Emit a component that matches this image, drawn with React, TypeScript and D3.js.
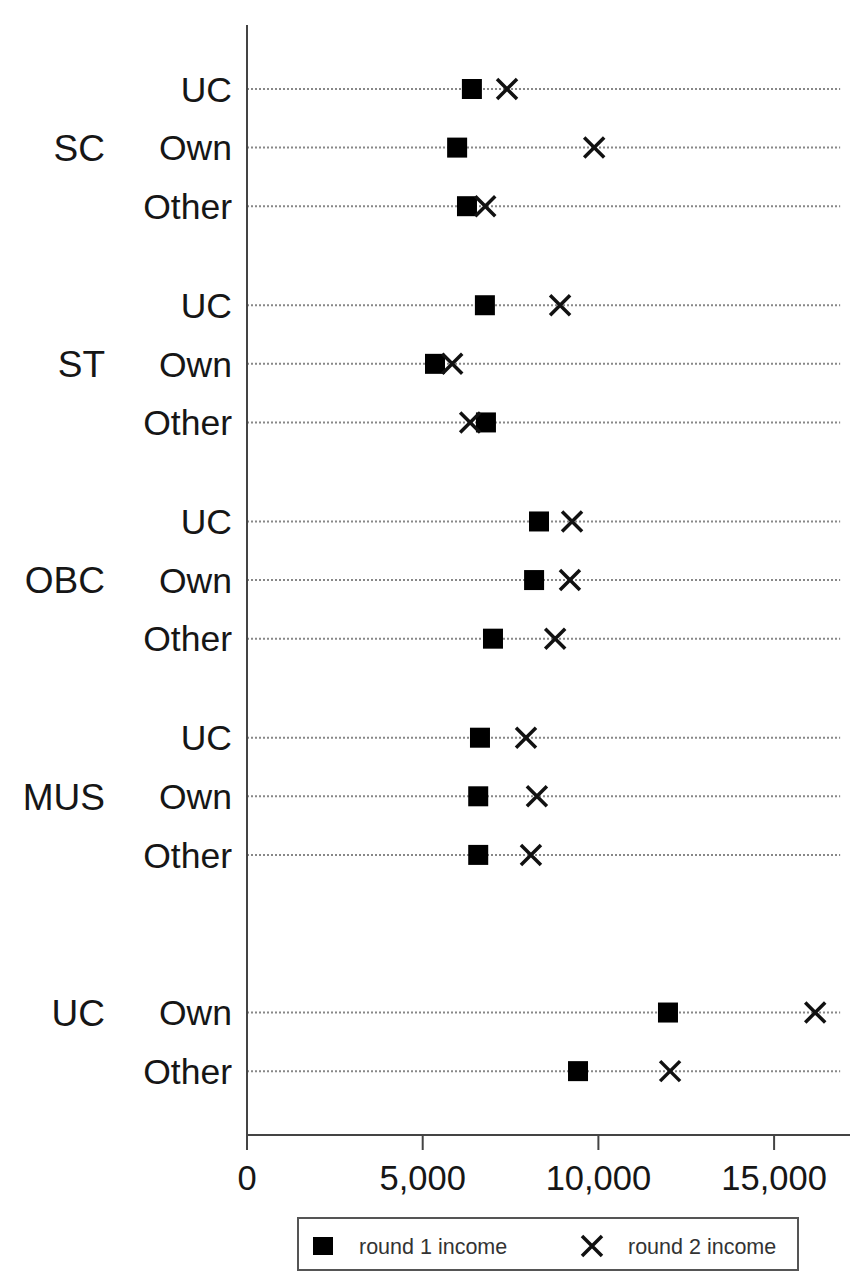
import React from "react";
import * as d3 from "d3";

const groupLabels = ["SC", "ST", "OBC", "MUS", "UC"];
const rowLabels = ["UC", "Own", "Other"];
// round 1 income per group, per row (UC, Own, Other); null = no row
const round1: (number | null)[][] = [
  [6400, 5980, 6260],
  [6770, 5350, 6800],
  [8310, 8170, 7000],
  [6630, 6580, 6580],
  [null, 11980, 9420],
];
const round2: (number | null)[][] = [
  [7400, 9880, 6780],
  [8910, 5840, 6350],
  [9250, 9190, 8770],
  [7940, 8250, 8080],
  [null, 16170, 12040],
];
const xTicks = [0, 5000, 10000, 15000];
const legendLabels = ["round 1 income", "round 2 income"];

const W = 856;
const H = 1283;
const FONT = "'Liberation Sans', Arial, Helvetica, sans-serif";

export default function App() {
  const x = d3.scaleLinear().domain([0, 17160]).range([247, 850]);
  const groupStep = 3.69;
  const y = d3.scaleLinear().domain([0, 1]).range([89, 147.6]);
  const unit = (g: number, r: number) => g * groupStep + r;
  const fmt = d3.format(",");
  const axisY = 1135;
  const lineEnd = x(16880);
  const sq = 20;
  const xs = 10;

  const rows: { g: number; r: number; v1: number; v2: number }[] = [];
  round1.forEach((arr, g) =>
    arr.forEach((v, r) => {
      const v2 = round2[g][r];
      if (v != null && v2 != null) rows.push({ g, r, v1: v, v2 });
    })
  );

  const cross = (cx: number, cy: number, key: string) => (
    <path
      key={key}
      d={`M${cx - xs},${cy - xs}L${cx + xs},${cy + xs}M${cx - xs},${cy + xs}L${cx + xs},${cy - xs}`}
      stroke="#111"
      strokeWidth={3.5}
      fill="none"
    />
  );

  return (
    <svg
      width={W}
      height={H}
      style={{ position: "absolute", left: 0, top: 0, background: "#fff" }}
      fontFamily={FONT}
    >
      {/* dotted grid lines */}
      {rows.map((d, i) => (
        <line
          key={"l" + i}
          x1={x(0)}
          x2={lineEnd}
          y1={y(unit(d.g, d.r))}
          y2={y(unit(d.g, d.r))}
          stroke="#888"
          strokeWidth={2}
          strokeDasharray="2,2"
        />
      ))}
      {/* row labels */}
      {rows.map((d, i) => (
        <text
          key={"rl" + i}
          x={232}
          y={y(unit(d.g, d.r))}
          dy="0.36em"
          textAnchor="end"
          fontSize={35.5}
          fill="#161616"
        >
          {rowLabels[d.r]}
        </text>
      ))}
      {/* group labels */}
      {groupLabels.map((gl, g) => (
        <text
          key={"gl" + g}
          x={105}
          y={y(unit(g, 1))}
          dy="0.36em"
          textAnchor="end"
          fontSize={37}
          fill="#161616"
        >
          {gl}
        </text>
      ))}
      {/* axes */}
      <line x1={x(0)} x2={x(0)} y1={25} y2={axisY} stroke="#444" strokeWidth={2} />
      <line x1={x(0)} x2={850} y1={axisY} y2={axisY} stroke="#444" strokeWidth={2} />
      {xTicks.map((t) => (
        <g key={"t" + t}>
          <line x1={x(t)} x2={x(t)} y1={axisY} y2={axisY + 15} stroke="#444" strokeWidth={2} />
          <text
            x={x(t)}
            y={1178}
            dy="0.36em"
            textAnchor="middle"
            fontSize={34.5}
            fill="#161616"
          >
            {fmt(t)}
          </text>
        </g>
      ))}
      {/* markers */}
      {rows.map((d, i) => (
        <rect
          key={"s" + i}
          x={x(d.v1) - sq / 2}
          y={y(unit(d.g, d.r)) - sq / 2}
          width={sq}
          height={sq}
          fill="#000"
        />
      ))}
      {rows.map((d, i) => cross(x(d.v2), y(unit(d.g, d.r)), "c" + i))}
      {/* legend */}
      <rect x={298} y={1218} width={500} height={52} fill="#fff" stroke="#555" strokeWidth={2} />
      <rect x={313} y={1237} width={20} height={18} fill="#000" />
      <text x={359} y={1246} dy="0.36em" fontSize={21.5} fill="#333">
        {legendLabels[0]}
      </text>
      {cross(592, 1246, "legx")}
      <text x={628} y={1246} dy="0.36em" fontSize={21.5} fill="#333">
        {legendLabels[1]}
      </text>
    </svg>
  );
}
